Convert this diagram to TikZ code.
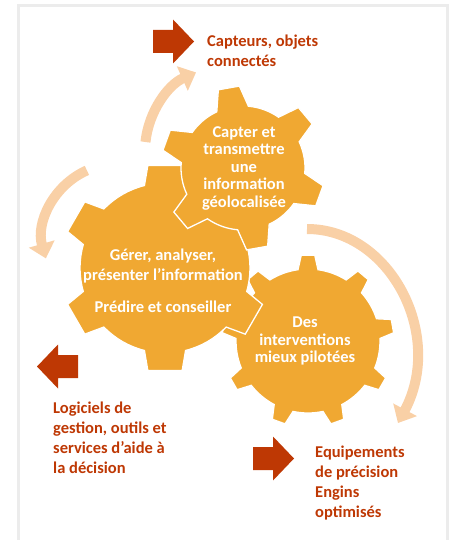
\documentclass[tikz,border=0pt]{standalone}
\usepackage{fontspec}
\setmainfont{Carlito}
\usetikzlibrary{arrows.meta,calc,positioning}

\definecolor{gearorange}{RGB}{240,168,50}
\definecolor{peach}{RGB}{249,208,166}
\definecolor{darkrust}{RGB}{190,56,4}
\definecolor{framegrey}{RGB}{236,236,236}

% centre, teeth, body radius, tip radius, half base angle, half tip angle, offset
\newcommand{\gearpath}[7]{%
  \path[gear] ($(#1)+({#7-#5}:#3)$)
    \foreach \k in {1,...,#2}{
      -- ($(#1)+({#7+(\k-1)*360/#2-#6}:#4)$)
      -- ($(#1)+({#7+(\k-1)*360/#2+#6}:#4)$)
      -- ($(#1)+({#7+(\k-1)*360/#2+#5}:#3)$)
      arc[start angle={#7+(\k-1)*360/#2+#5}, end angle={#7+\k*360/#2-#5}, radius=#3]
    } -- cycle;}

\begin{document}
\begin{tikzpicture}[
  x=1pt, y=-1pt,
  every node/.style={font=\bfseries\fontsize{16.5}{17.5}\selectfont, inner sep=0pt},
  gear/.style={fill=gearorange, draw=white, line width=1.3pt},
  geartext/.style={text=white, align=center},
  sidetext/.style={text=darkrust, align=left, anchor=north west, font=\bfseries\fontsize{16.5}{20}\selectfont},
  cyclearrow/.style={draw=peach, line width=10pt, -{Triangle[width=26pt,length=15pt]}},
  blockarrow/.style={fill=darkrust},
  ]
\useasboundingbox (0,0) rectangle (451,540);

% frame
\draw[framegrey, line width=3pt] (18.5,6) rectangle (447,600);

% gear centres
\coordinate (intC) at (308,341);
\coordinate (gerC) at (165,268);
\coordinate (capC) at (243,168);

% gears (back to front)
\gearpath{intC}{9}{72}{86}{8}{4.5}{30}
\gearpath{gerC}{6}{85}{104}{14}{9.5}{30}
\gearpath{capC}{6}{62}{82}{15}{7.5}{20}

% gear texts
\node[geartext] (capter) at (244,168) {Capter et\\transmettre\\une\\information\\géolocalisée};
\node[geartext, font=\bfseries\fontsize{16.5}{20}\selectfont] (gerer) at (163,281) {Gérer, analyser,\\présenter l’information\\[12pt]Prédire et conseiller};
\node[geartext] (interv) at (305,341) {Des\\interventions\\mieux pilotées};

% cycle arrows
\draw[cyclearrow] ($(231,151)+(-174:86)$) arc[start angle=-174, end angle=-114, radius=86];
\draw[cyclearrow] ($(117,238)+(-114:74)$) arc[start angle=-114, end angle=-196, radius=74];
\draw[cyclearrow] (307,229) .. controls (390,229) and (445,335) .. (398,423);

% block arrows
\foreach \px/\py/\dir in {153/41.5/1, 78/366.5/-1, 253/458.5/1}
  \fill[blockarrow, shift={(\px,\py)}, xscale=\dir]
    (0,-11.5) -- (20,-11.5) -- (20,-22) -- (41,0) -- (20,22) -- (20,11.5) -- (0,11.5) -- cycle;

% side texts
\node[sidetext] (capteurs) at (207,35) {Capteurs, objets\\connectés};
\node[sidetext] (logiciels) at (53,402) {Logiciels de\\gestion, outils et\\services d’aide à\\la décision};
\node[sidetext] (equip) at (315,446) {Equipements\\de précision\\Engins\\optimisés};

\end{tikzpicture}
\end{document}
